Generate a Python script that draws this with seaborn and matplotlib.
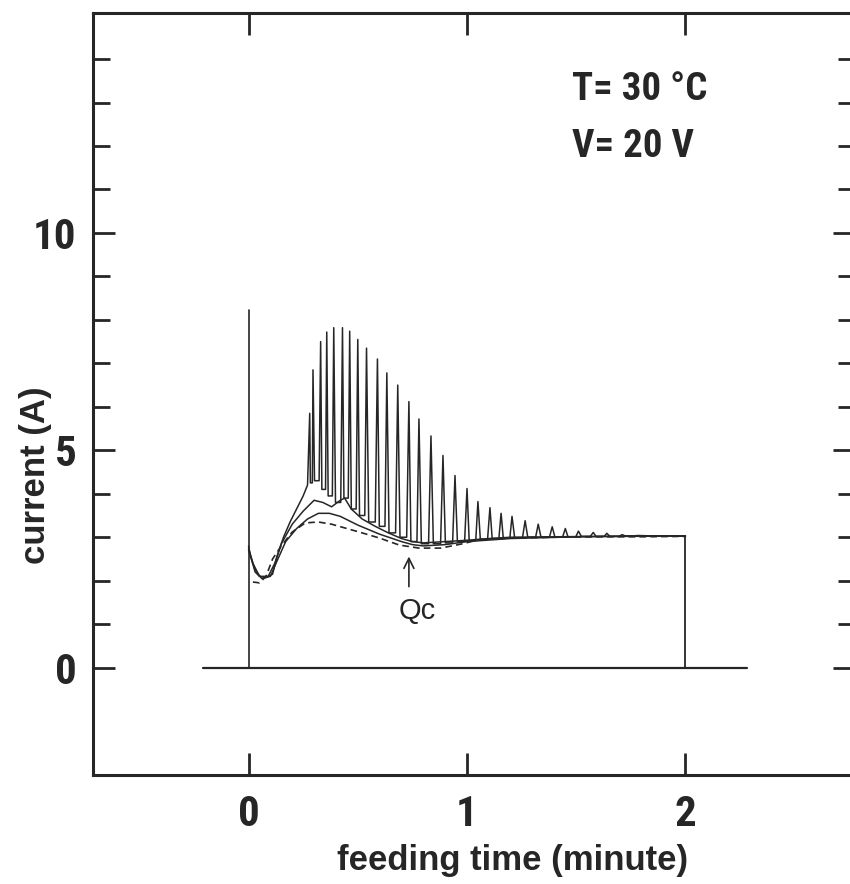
import numpy as np
import pandas as pd
import matplotlib
matplotlib.use("Agg")
import matplotlib.pyplot as plt
from matplotlib import font_manager as fm
import seaborn as sns

# ---------------- data ----------------
# spiky trace: start segment
start_t = [0.0, 0.01, 0.03, 0.05, 0.08, 0.11, 0.13, 0.16, 0.19, 0.22, 0.25, 0.27]
start_v = [2.8, 2.55, 2.2, 2.1, 2.07, 2.15, 2.55, 3.0, 3.35, 3.65, 3.95, 4.2]
# spike tops
spike_t = [0.28, 0.295, 0.33, 0.358, 0.39, 0.43, 0.463, 0.50, 0.54, 0.59, 0.633,
           0.683, 0.734, 0.78, 0.835, 0.89, 0.945, 1.0, 1.05, 1.105, 1.156, 1.206,
           1.266, 1.326, 1.39, 1.45, 1.51, 1.578, 1.64, 1.71, 1.78]
spike_peak = [5.85, 6.85, 7.5, 7.72, 7.82, 7.82, 7.74, 7.55, 7.35, 7.1, 6.78,
              6.5, 6.12, 5.72, 5.33, 4.88, 4.42, 4.12, 3.82, 3.68, 3.55, 3.48,
              3.38, 3.3, 3.24, 3.2, 3.14, 3.11, 3.09, 3.06, 3.04]
# valley level after each spike (before the next one)
valley_v = [4.25, 4.3, 4.1, 3.95, 3.8, 3.9, 3.65, 3.5, 3.35, 3.25, 3.1, 3.0,
            2.9, 2.85, 2.85, 2.87, 2.9, 2.92, 2.95, 2.97, 2.98, 2.99, 3.0,
            3.0, 3.01, 3.01, 3.02, 3.02, 3.02, 3.03]
end_t = [1.85, 1.92, 2.0]
end_v = [3.03, 3.03, 3.02]

# smoother solid traces
b_t = [0.0, 0.02, 0.05, 0.09, 0.12, 0.15, 0.2, 0.25, 0.3, 0.34, 0.38, 0.42, 0.44,
       0.47, 0.52, 0.58, 0.64, 0.7, 0.75, 0.8, 0.9, 1.0, 1.1, 1.2, 1.4, 1.6, 1.8, 2.0]
b_v = [2.75, 2.4, 2.1, 2.1, 2.4, 2.85, 3.3, 3.6, 3.85, 3.8, 3.7, 3.85, 3.9, 3.65,
       3.42, 3.25, 3.1, 2.97, 2.9, 2.87, 2.9, 2.93, 2.97, 3.0, 3.01, 3.02, 3.03, 3.03]
c_t = [0.0, 0.03, 0.06, 0.1, 0.13, 0.17, 0.22, 0.27, 0.32, 0.37, 0.42, 0.5, 0.6,
       0.7, 0.75, 0.8, 0.9, 1.0, 1.2, 1.5, 2.0]
c_v = [2.7, 2.25, 2.05, 2.1, 2.45, 2.9, 3.2, 3.42, 3.55, 3.55, 3.48, 3.28, 3.07,
       2.9, 2.83, 2.8, 2.83, 2.9, 2.97, 3.01, 3.03]
# dashed trace
d_t = [0.02, 0.05, 0.08, 0.11, 0.15, 0.2, 0.26, 0.32, 0.38, 0.45, 0.52, 0.6,
       0.69, 0.78, 0.88, 0.98, 1.06, 1.2, 1.4, 1.6, 1.8, 2.0]
d_v = [1.97, 1.95, 2.1, 2.5, 2.8, 3.12, 3.33, 3.35, 3.3, 3.2, 3.1, 2.98, 2.82,
       2.75, 2.75, 2.85, 2.95, 2.98, 3.0, 3.01, 3.01, 3.02]
# frame of the feeding pulse
base_x = [-0.21, 2.28]
base_y = [0.0, 0.0]
jump_x = [0.0, 0.0]
jump_y = [0.0, 8.22]
drop_x = [2.0, 2.0]
drop_y = [0.0, 3.02]

xticks = [0, 1, 2]
yticks = [0, 5, 10]
yminor = [1, 2, 3, 4, 6, 7, 8, 9, 11, 12, 13, 14]
xlabel = "feeding time (minute)"
ylabel = "current (A)"
cond1 = "T= 30 °C"
cond2 = "V= 20 V"
qc_label = "Qc"
qc_x = 0.734
qc_y = 2.62

# ---------------- style ----------------
FOOT = 0.2  # spike foot position as fraction of the gap between spikes

sns.set_theme(style="ticks")
installed = {f.name for f in fm.fontManager.ttflist}
narrow = [n for n in ["Liberation Sans Narrow", "DejaVu Sans Condensed",
                      "Roboto Condensed", "Open Sans Condensed",
                      "Noto Sans Condensed", "Liberation Sans"] if n in installed]
plt.rcParams["font.family"] = narrow[:1] + ["Liberation Sans", "DejaVu Sans"]

fig = plt.figure(figsize=(8.5, 8.84), dpi=100)
ax = fig.add_axes([93 / 850, 109 / 884, (855 - 93) / 850, (775 - 13) / 884])

ink = "#262626"

# build the spiky trace: foot - peak - foot for every spike, valley levels between
sx, sy = list(start_t), list(start_v)
for i, (t, p) in enumerate(zip(spike_t, spike_peak)):
    if i > 0:
        g = t - spike_t[i - 1]
        sx.append(t - FOOT * g)
        sy.append(valley_v[i - 1])
    sx.append(t)
    sy.append(p)
    if i < len(valley_v):
        g = spike_t[i + 1] - t
        sx.append(t + FOOT * g)
        sy.append(valley_v[i])
sx += end_t
sy += end_v
spiky = pd.DataFrame({"t": sx, "v": sy})

sns.lineplot(data=spiky, x="t", y="v", ax=ax, color=ink, lw=1.1,
             estimator=None, sort=False)
sns.lineplot(x=b_t, y=b_v, ax=ax, color=ink, lw=1.1, estimator=None)
sns.lineplot(x=c_t, y=c_v, ax=ax, color=ink, lw=1.1, estimator=None)
sns.lineplot(x=d_t, y=d_v, ax=ax, color=ink, lw=1.2, estimator=None,
             linestyle=(0, (4, 2.5)))
for fx, fy, lw in [(base_x, base_y, 1.6), (jump_x, jump_y, 1.2), (drop_x, drop_y, 1.3)]:
    sns.lineplot(x=fx, y=fy, ax=ax, color=ink, lw=lw, estimator=None, sort=False)

ax.set_xlim(-0.712, 2.776)
ax.set_ylim(-2.47, 15.06)
ax.set_xticks(xticks)
ax.set_xticklabels([str(t) for t in xticks])
ax.set_yticks(yticks)
ax.set_yticklabels([str(t) for t in yticks])
ax.set_yticks(yminor, minor=True)

for s in ax.spines.values():
    s.set_linewidth(2.2)
    s.set_color(ink)

ax.tick_params(axis="both", which="major", direction="in", length=16, width=2,
               color=ink, top=True, right=True, labelsize=31, pad=14)
ax.tick_params(axis="y", which="minor", direction="in", length=12, width=2,
               color=ink, left=True, right=True)
ax.tick_params(axis="y", which="major", pad=12)
for lab in ax.get_xticklabels() + ax.get_yticklabels():
    lab.set_fontweight("bold")
    lab.set_color(ink)

ax.set_xlabel(xlabel, fontsize=25, fontweight="bold", color=ink,
              family=["Liberation Sans", "DejaVu Sans"])
ax.xaxis.set_label_coords(0.55, -0.112)
ax.xaxis.label.set_va("center")
ax.set_ylabel(ylabel, fontsize=25, fontweight="bold", color=ink,
              family=["Liberation Sans", "DejaVu Sans"])
ax.yaxis.set_label_coords(-0.076, 0.394)
ax.yaxis.label.set_va("center")

ax.text(1.48, 13.3, cond1, fontsize=28, fontweight="bold", color=ink,
        ha="left", va="center")
ax.text(1.48, 12.0, cond2, fontsize=28, fontweight="bold", color=ink,
        ha="left", va="center")

ax.annotate("", xy=(qc_x, qc_y), xytext=(qc_x, 1.8),
            arrowprops=dict(arrowstyle="->", lw=1.2, color=ink,
                            mutation_scale=18))
ax.text(0.77, 1.3, qc_label, fontsize=21, color=ink, ha="center", va="center",
        family=["Liberation Sans", "DejaVu Sans"])

ax.grid(False)
fig.savefig("out.png", dpi=100)
